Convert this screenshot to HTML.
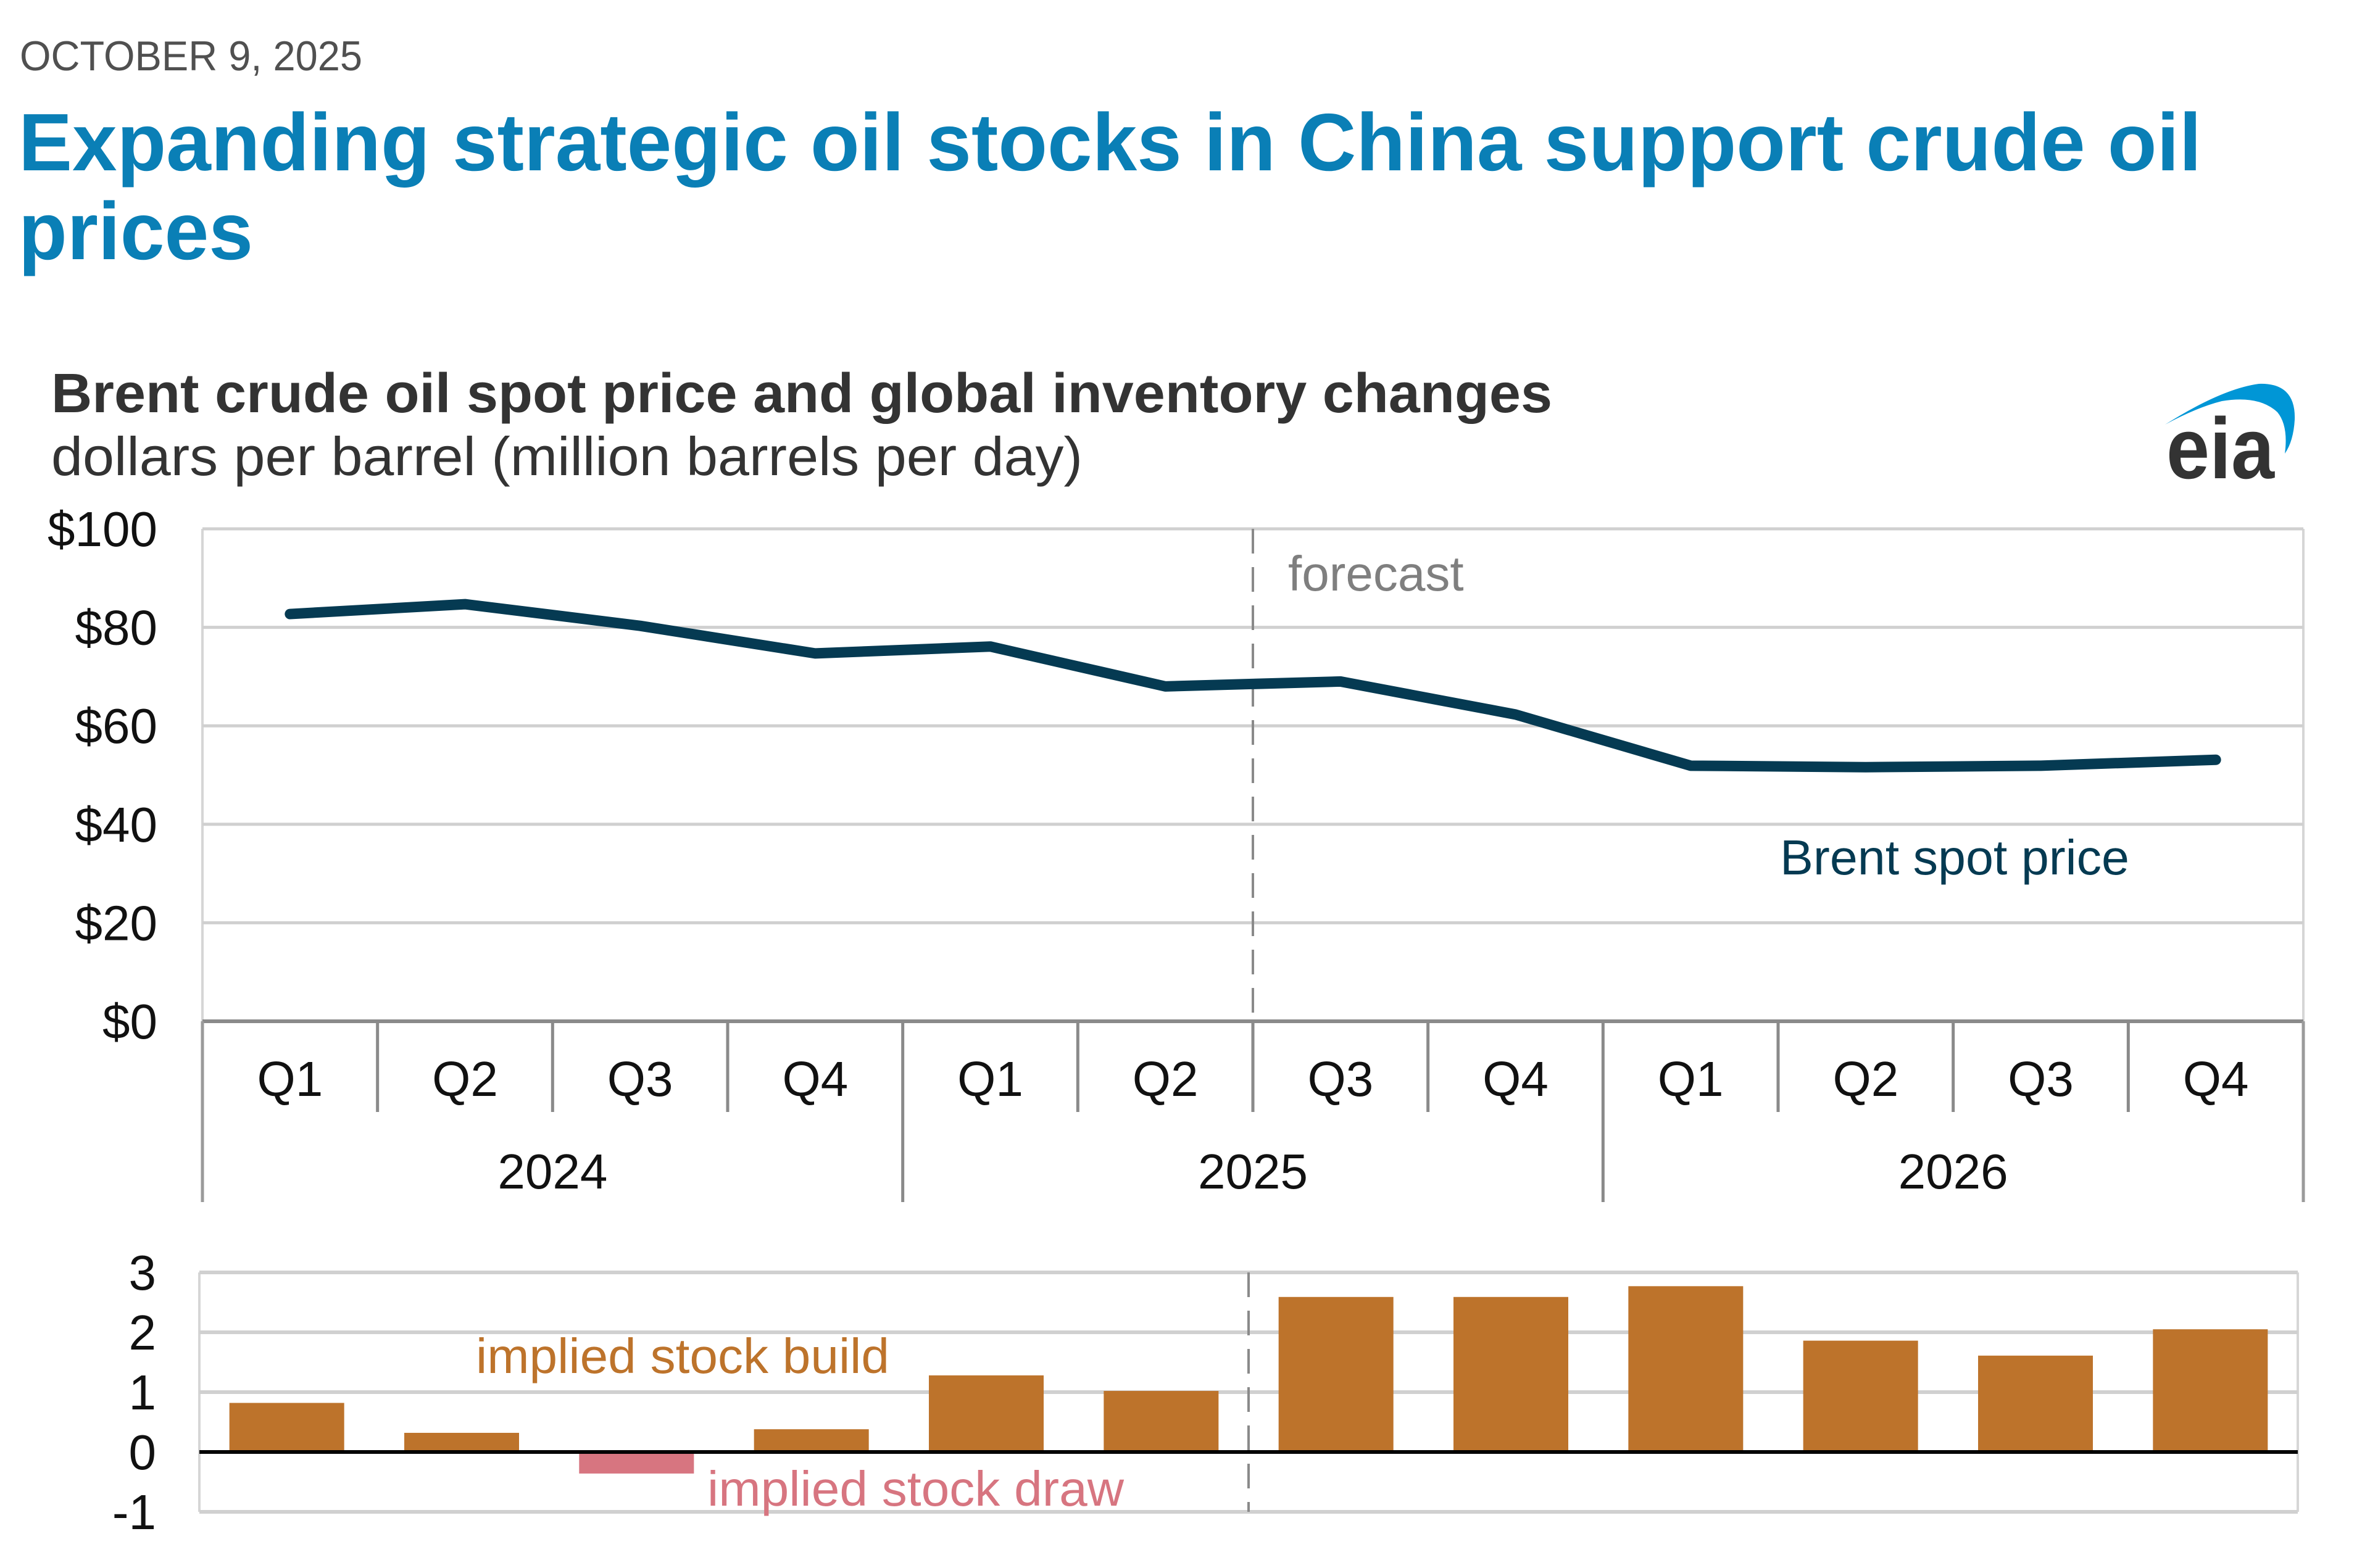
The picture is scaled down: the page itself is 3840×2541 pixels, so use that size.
<!DOCTYPE html>
<html><head><meta charset="utf-8"><style>
html,body{margin:0;padding:0;background:#fff;}
svg{display:block;font-family:"Liberation Sans",sans-serif;}
</style></head><body>
<svg id="chart" width="3840" height="2541" viewBox="0 0 3840 2541" xmlns="http://www.w3.org/2000/svg">
<rect width="3840" height="2541" fill="#fff"/>
<text x="32" y="114" font-size="68" fill="#505050" textLength="555" lengthAdjust="spacingAndGlyphs">OCTOBER 9, 2025</text>
<text x="30" y="276" font-size="132" font-weight="bold" fill="#0a7fb6" textLength="3537" lengthAdjust="spacingAndGlyphs">Expanding strategic oil stocks in China support crude oil</text>
<text x="30" y="420" font-size="132" font-weight="bold" fill="#0a7fb6" textLength="380" lengthAdjust="spacingAndGlyphs">prices</text>
<text x="83" y="668" font-size="90" font-weight="bold" fill="#333" textLength="2432" lengthAdjust="spacingAndGlyphs">Brent crude oil spot price and global inventory changes</text>
<text x="83" y="770" font-size="88" fill="#333" textLength="1671" lengthAdjust="spacingAndGlyphs">dollars per barrel (million barrels per day)</text>
<g>
<path d="M3508,688 Q3600,630 3660,622 Q3720,620 3718,680 Q3716,715 3702,735 Q3708,690 3690,668 Q3660,640 3600,650 Q3560,660 3508,688 Z" fill="#0096d6"/>
<text x="3510" y="775" font-size="140" font-weight="bold" fill="#333" textLength="175" lengthAdjust="spacingAndGlyphs">eia</text>
</g>
<g id="topChart"></g>
<g id="bottomChart"></g>
</svg>
<script>
const quarters = ["Q1","Q2","Q3","Q4","Q1","Q2","Q3","Q4","Q1","Q2","Q3","Q4"];
const years = ["2024","2025","2026"];
const brentPrice = [82.7,84.7,80.3,74.7,76.1,68.0,69.0,62.3,51.9,51.6,51.9,53.1];
const priceTicks = [0,20,40,60,80,100];
const priceTickLabels = ["$0","$20","$40","$60","$80","$100"];
const stockChange = [0.82,0.32,-0.36,0.38,1.28,1.02,2.59,2.59,2.77,1.86,1.61,2.05];
const stockTicks = [-1,0,1,2,3];
const forecastStartIndex = 6;

const NS="http://www.w3.org/2000/svg";
function mk(parent,tag,attrs,text){const e=document.createElementNS(NS,tag);for(const k in attrs)e.setAttribute(k,attrs[k]);if(text!==undefined)e.textContent=text;parent.appendChild(e);return e;}
const FS=80;

const topG=document.getElementById('topChart');
const tL=328,tR=3732,tTop=857,tBot=1655;
const tq=(tR-tL)/quarters.length;
const xT=i=>tL+(i+0.5)*tq;
const yP=v=>tBot-(v/100)*(tBot-tTop);
let e;
e=mk(topG,'line',{x1:tL,y1:tTop,x2:tL,y2:tBot,stroke:'#d6d6d6','stroke-width':4});


e=mk(topG,'line',{x1:tR,y1:tTop,x2:tR,y2:tBot,stroke:'#d6d6d6','stroke-width':4});


priceTicks.forEach((t,i)=>{
  if(t>0){e=mk(topG,'line',{x1:tL,y1:yP(t),x2:tR,y2:yP(t),stroke:'#d0d0d0','stroke-width':5});
  
  }
  e=mk(topG,'text',{x:255,y:yP(t)+28,'font-size':FS,'text-anchor':'end',fill:'#111'},priceTickLabels[i]);
  
  
});
e=mk(topG,'line',{x1:tL,y1:tBot,x2:tR,y2:tBot,stroke:'#8a8a8a','stroke-width':6});


for(let i=0;i<=quarters.length;i++){
  const x=tL+i*tq;
  const full=(i%4===0);
  e=mk(topG,'line',{x1:x,y1:tBot,x2:x,y2:full?1948:1802,stroke:(i===0||i===12)?'#9a9a9a':'#8a8a8a','stroke-width':5});
  
  
}
quarters.forEach((q,i)=>{
  e=mk(topG,'text',{x:xT(i),y:1776,'font-size':FS,'text-anchor':'middle',fill:'#111'},q);
  
  
});
years.forEach((yr,i)=>{
  e=mk(topG,'text',{x:tL+(i*4+2)*tq,y:1926,'font-size':FS,'text-anchor':'middle',fill:'#111'},yr);
  
  
});
const fx=tL+forecastStartIndex*tq;
e=mk(topG,'line',{x1:fx,y1:tTop,x2:fx,y2:1800,stroke:'#8a8a8a','stroke-width':4,'stroke-dasharray':'40,22'});


e=mk(topG,'text',{x:fx+57,y:957,'font-size':FS,fill:'#7f7f7f'},'forecast');


e=mk(topG,'polyline',{points:brentPrice.map((v,i)=>xT(i)+','+yP(v)).join(' '),fill:'none',stroke:'#053a52','stroke-width':17,'stroke-linecap':'round','stroke-linejoin':'round'});


e=mk(topG,'text',{x:2884,y:1417,'font-size':FS,fill:'#053a52',textLength:566,lengthAdjust:'spacingAndGlyphs'},'Brent spot price');



const botG=document.getElementById('bottomChart');
const bL=323,bR=3723,b3=2062,bm1=2450;
const bq=(bR-bL)/quarters.length;
const xB=i=>bL+(i+0.5)*bq;
const yS=v=>b3+(3-v)/4*(bm1-b3);
e=mk(botG,'line',{x1:bL,y1:b3,x2:bL,y2:bm1,stroke:'#d6d6d6','stroke-width':4});


e=mk(botG,'line',{x1:bR,y1:b3,x2:bR,y2:bm1,stroke:'#d6d6d6','stroke-width':4});


stockTicks.forEach(t=>{
  if(t!==0){e=mk(botG,'line',{x1:bL,y1:yS(t),x2:bR,y2:yS(t),stroke:'#d0d0d0','stroke-width':6});
  
  }
  e=mk(botG,'text',{x:253,y:yS(t)+28,'font-size':FS,'text-anchor':'end',fill:'#111'},String(t));
  
  
});
const bw=186;
stockChange.forEach((v,i)=>{
  const y0=yS(0),y1=yS(v);
  e=mk(botG,'rect',{x:xB(i)-bw/2,y:Math.min(y0,y1),width:bw,height:Math.abs(y1-y0),fill:v<0?'#d77580':'#bd732b'});
  
  
});
e=mk(botG,'line',{x1:bL,y1:yS(0),x2:bR,y2:yS(0),stroke:'#000','stroke-width':6});


const bfx=bL+forecastStartIndex*bq;
e=mk(botG,'line',{x1:bfx,y1:b3,x2:bfx,y2:bm1,stroke:'#8a8a8a','stroke-width':4,'stroke-dasharray':'40,22'});


e=mk(botG,'text',{x:771,y:2225,'font-size':FS,fill:'#bd732b',textLength:670,lengthAdjust:'spacingAndGlyphs'},'implied stock build');


e=mk(botG,'text',{x:1146,y:2440,'font-size':FS,fill:'#d77580',textLength:675,lengthAdjust:'spacingAndGlyphs'},'implied stock draw');


</script>
</body></html>
